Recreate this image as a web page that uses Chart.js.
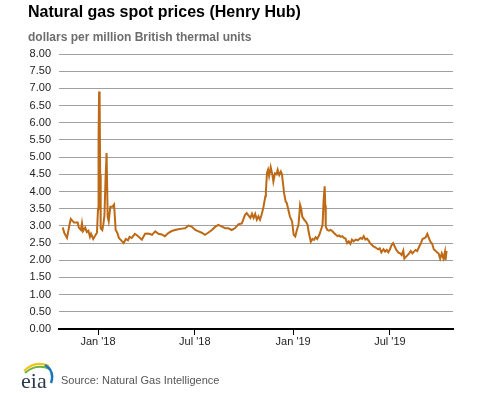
<!DOCTYPE html>
<html lang="en">
<head>
    <meta charset="UTF-8">
    <title>Natural gas spot prices (Henry Hub)</title>
    <script src="https://cdn.jsdelivr.net/npm/chart.js"></script>
</head>
<style>
    body{
        margin: 0;
        background: #fff;
        font-family: Arial, "Liberation Sans", sans-serif;
    }
    .wrap{
        position: relative;
        width: 477px;
        height: 393px;
        overflow: hidden;
    }
    #chart{
        position: absolute;
        left: 0;
        top: 0;
    }
    .title{
        position: absolute;
        left: 28px;
        top: 4px;
        font-size: 16px;
        line-height: 1;
        font-weight: bold;
        color: #000;
        white-space: nowrap;
    }
    .sub{
        position: absolute;
        left: 28px;
        top: 31px;
        font-size: 12px;
        line-height: 1;
        font-weight: bold;
        color: #6d6d6d;
        white-space: nowrap;
    }
    .source{
        position: absolute;
        left: 61px;
        top: 375px;
        font-size: 11px;
        line-height: 1;
        color: #555;
        white-space: nowrap;
    }
    .logo{
        position: absolute;
        left: 18px;
        top: 358px;
    }
</style>
<body>
    <div class="wrap">
        <canvas id="chart" width="477" height="393"></canvas>
        <div class="title">Natural gas spot prices (Henry Hub)</div>
        <div class="sub">dollars per million British thermal units</div>
        <svg class="logo" width="38" height="34">
            <path d="M6 13 Q17 2 31 8" stroke="#f0c419" stroke-width="2" fill="none"/>
            <path d="M7 15 Q18 5 32 11" stroke="#6cb33f" stroke-width="2" fill="none"/>
            <path d="M27 7 Q37 13 33 25" stroke="#1c75bc" stroke-width="2.5" fill="none"/>
            <text x="3" y="30" font-family="'Liberation Serif', serif" font-size="22" fill="#2b3a4a">eia</text>
        </svg>
        <div class="source">Source: Natural Gas Intelligence</div>
    </div>

<script>
    // daily spot prices, $/MMBtu
    let dates = [
        '2017-10-27','2017-10-30','2017-11-04','2017-11-08','2017-11-11','2017-11-15','2017-11-17','2017-11-24',
        '2017-11-26','2017-11-30','2017-12-02','2017-12-04','2017-12-08','2017-12-11','2017-12-14','2017-12-17',
        '2017-12-19','2017-12-23','2017-12-26','2017-12-30','2018-01-01','2018-01-02','2018-01-03','2018-01-04',
        '2018-01-05','2018-01-06','2018-01-09','2018-01-11','2018-01-13','2018-01-15','2018-01-17','2018-01-19',
        '2018-01-21','2018-01-24','2018-01-28','2018-01-31','2018-02-03','2018-02-06','2018-02-09','2018-02-12',
        '2018-02-15','2018-02-18','2018-02-22','2018-02-26','2018-03-01','2018-03-05','2018-03-11','2018-03-17',
        '2018-03-24','2018-03-30','2018-04-05','2018-04-12','2018-04-18','2018-04-24','2018-04-30','2018-05-06',
        '2018-05-13','2018-05-19','2018-05-25','2018-05-31','2018-06-07','2018-06-13','2018-06-19','2018-06-25',
        '2018-07-02','2018-07-08','2018-07-14','2018-07-20','2018-07-26','2018-08-02','2018-08-08','2018-08-14',
        '2018-08-21','2018-08-27','2018-09-02','2018-09-08','2018-09-14','2018-09-21','2018-09-27','2018-10-03',
        '2018-10-06','2018-10-13','2018-10-16','2018-10-19','2018-10-22','2018-10-25','2018-10-28','2018-10-31',
        '2018-11-03','2018-11-06','2018-11-10','2018-11-11','2018-11-13','2018-11-15','2018-11-17','2018-11-20',
        '2018-11-23','2018-11-25','2018-11-28','2018-12-01','2018-12-03','2018-12-06','2018-12-09','2018-12-11',
        '2018-12-13','2018-12-15','2018-12-18','2018-12-20','2018-12-23','2018-12-26','2018-12-30','2019-01-02',
        '2019-01-05','2019-01-08','2019-01-11','2019-01-14','2019-01-16','2019-01-18','2019-01-22','2019-01-25',
        '2019-01-28','2019-01-30','2019-02-03','2019-02-06','2019-02-09','2019-02-12','2019-02-15','2019-02-19',
        '2019-02-22','2019-02-25','2019-02-27','2019-03-01','2019-03-02','2019-03-03','2019-03-06','2019-03-09',
        '2019-03-12','2019-03-15','2019-03-18','2019-03-22','2019-03-25','2019-03-28','2019-03-31','2019-04-03',
        '2019-04-06','2019-04-09','2019-04-12','2019-04-15','2019-04-18','2019-04-21','2019-04-24','2019-04-28',
        '2019-05-02','2019-05-07','2019-05-10','2019-05-13','2019-05-16','2019-05-19','2019-05-22','2019-05-25',
        '2019-05-28','2019-05-31','2019-06-03','2019-06-06','2019-06-09','2019-06-12','2019-06-15','2019-06-19',
        '2019-06-22','2019-06-25','2019-06-28','2019-07-01','2019-07-04','2019-07-07','2019-07-10','2019-07-13',
        '2019-07-17','2019-07-20','2019-07-23','2019-07-26','2019-07-28','2019-07-31','2019-08-03','2019-08-06',
        '2019-08-09','2019-08-12','2019-08-15','2019-08-18','2019-08-21','2019-08-25','2019-08-28','2019-08-31',
        '2019-09-03','2019-09-06','2019-09-09','2019-09-12','2019-09-15','2019-09-18','2019-09-21','2019-09-24',
        '2019-09-27','2019-09-30','2019-10-03','2019-10-06','2019-10-09','2019-10-12','2019-10-13','2019-10-15'
    ];
    let prices = [
        2.95, 2.79, 2.65, 2.98, 3.20, 3.13, 3.10, 3.10,
        2.95, 2.88, 3.08, 2.85, 2.95, 2.82, 2.86, 2.68,
        2.77, 2.62, 2.70, 2.80, 3.50, 5.50, 6.91, 6.70,
        4.50, 2.93, 2.88, 3.05, 3.30, 4.34, 5.12, 3.27,
        3.13, 3.56, 3.56, 3.62, 2.88, 2.80, 2.65, 2.60,
        2.55, 2.50, 2.62, 2.58, 2.68, 2.65, 2.77, 2.70,
        2.60, 2.77, 2.78, 2.74, 2.84, 2.77, 2.75, 2.70,
        2.80, 2.85, 2.88, 2.90, 2.92, 2.93, 3.01, 2.98,
        2.88, 2.84, 2.80, 2.74, 2.80, 2.88, 2.97, 3.03,
        2.98, 2.93, 2.93, 2.88, 2.93, 3.05, 3.07, 3.32,
        3.37, 3.23, 3.35, 3.23, 3.35, 3.18, 3.28, 3.18,
        3.33, 3.51, 3.86, 4.00, 4.53, 4.63, 4.45, 4.71,
        4.50, 4.29, 4.53, 4.50, 4.63, 4.48, 4.58, 4.50,
        4.24, 3.95, 3.71, 3.67, 3.47, 3.27, 3.13, 2.74,
        2.69, 2.88, 3.03, 3.61, 3.50, 3.27, 3.17, 3.12,
        3.03, 2.82, 2.54, 2.62, 2.59, 2.67, 2.62, 2.74,
        2.88, 3.03, 3.75, 4.15, 3.60, 2.98, 2.88, 2.86,
        2.88, 2.85, 2.80, 2.74, 2.70, 2.72, 2.68, 2.70,
        2.65, 2.63, 2.50, 2.55, 2.48, 2.60, 2.55, 2.60,
        2.58, 2.65, 2.62, 2.70, 2.60, 2.63, 2.57, 2.50,
        2.45, 2.40, 2.38, 2.35, 2.32, 2.35, 2.23, 2.32,
        2.25, 2.30, 2.23, 2.32, 2.44, 2.50, 2.40, 2.30,
        2.22, 2.20, 2.15, 2.28, 2.05, 2.10, 2.15, 2.20,
        2.27, 2.20, 2.25, 2.30, 2.27, 2.40, 2.50, 2.62,
        2.64, 2.67, 2.77, 2.64, 2.53, 2.48, 2.32, 2.28,
        2.23, 2.20, 2.05, 2.20, 2.05, 2.25, 2.00, 2.27
    ];
    let tickDates = ['2018-01-01', '2018-07-01', '2019-01-01', '2019-07-01'];
    let tickLabels = ["Jan '18", "Jul '18", "Jan '19", "Jul '19"];

    let day0 = Date.UTC(2018, 0, 1);
    function toDay(s){
        let p = s.split('-');
        return (Date.UTC(+p[0], +p[1] - 1, +p[2]) - day0) / 86400000;
    }

    let font = {family: 'Arial, "Liberation Sans", sans-serif', size: 11};

    let chart = new Chart(document.getElementById('chart'), {
        type: 'line',
        data: {
            datasets: [{
                label: 'Henry Hub',
                data: dates.map((d, i) => ({x: toDay(d), y: prices[i]})),
                borderColor: '#bd6916',
                borderWidth: 2,
                pointRadius: 0,
                tension: 0,
                fill: false
            }]
        },
        options: {
            responsive: false,
            animation: false,
            layout: {
                padding: {left: 0, right: 24, top: 54, bottom: 40}
            },
            plugins: {
                legend: {display: false},
                tooltip: {enabled: false}
            },
            scales: {
                x: {
                    type: 'linear',
                    min: toDay('2017-10-20'),
                    max: toDay('2019-10-27'),
                    afterBuildTicks: s => { s.ticks = tickDates.map(d => ({value: toDay(d)})); },
                    afterFit: s => { s.height = 24; },
                    grid: {drawOnChartArea: false, drawTicks: true, tickLength: 6, color: '#000', lineWidth: 1},
                    border: {display: true, color: '#000', width: 2},
                    ticks: {
                        callback: (v, i) => tickLabels[i],
                        font: font,
                        color: '#222',
                        maxRotation: 0,
                        autoSkip: false,
                        padding: 0
                    }
                },
                y: {
                    min: 0,
                    max: 8,
                    afterFit: s => { s.width = 59; },
                    ticks: {
                        stepSize: 0.5,
                        callback: v => v.toFixed(2),
                        font: font,
                        color: '#222',
                        padding: 8
                    },
                    grid: {color: '#a0a0a0', lineWidth: 1, drawTicks: false},
                    border: {display: false}
                }
            }
        }
    });
</script>
</body>
</html>
